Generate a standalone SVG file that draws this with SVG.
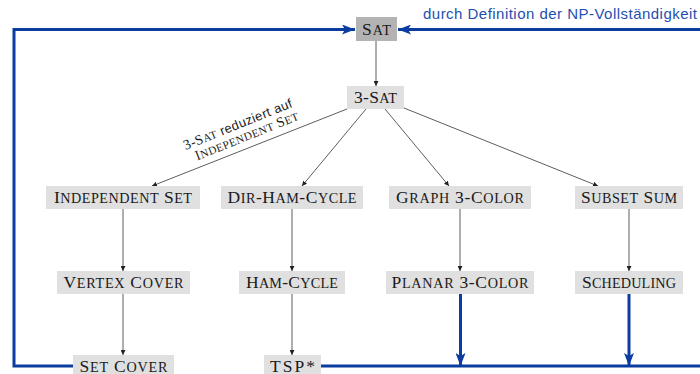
<svg xmlns="http://www.w3.org/2000/svg" width="700" height="374" viewBox="0 0 700 374">
<defs>
<style>
.box{fill:#e0e0e0}
.dark{fill:#b3b3b3}
.nt{font-family:"Liberation Serif","DejaVu Serif",serif;font-size:17.5px;fill:#1a1a1a;text-anchor:middle}
.s{font-size:14.2px}
.e{stroke:#333;stroke-width:0.8;fill:none;marker-end:url(#ah)}
.b{stroke:#0a3d9f;stroke-width:3;fill:none}
.ba{marker-end:url(#bh)}
.lbl{font-family:"Liberation Sans","DejaVu Sans",sans-serif;font-size:15px;fill:#1f4fb0}
.el{font-size:14px;fill:#1a1a1a;text-anchor:middle}
.es{font-size:11.3px}
.ser{font-family:"Liberation Serif","DejaVu Serif",serif}
.san{font-family:"Liberation Sans","DejaVu Sans",sans-serif;font-size:13px}
</style>
<marker id="ah" viewBox="0 0 10 10" refX="10" refY="5" markerWidth="5" markerHeight="5" markerUnits="userSpaceOnUse" orient="auto">
<path d="M0,0 L10,5 L0,10 z" fill="#222"/>
</marker>
<marker id="bh" viewBox="0 0 13 10" refX="13" refY="5" markerWidth="13" markerHeight="10" markerUnits="userSpaceOnUse" orient="auto">
<path d="M0,0 L13,5 L0,10 L3,5 z" fill="#0a3d9f"/>
</marker>
</defs>

<g id="connectors">
<path class="e" d="M376,41 V86"/>
<path class="e" d="M347,109 L152,186"/>
<path class="e" d="M366,109 L302,186"/>
<path class="e" d="M385,109 L449,186"/>
<path class="e" d="M404,108 L598,186"/>
<path class="e" d="M123,209 V271"/>
<path class="e" d="M123,294 V355"/>
<path class="e" d="M292,209 V271"/>
<path class="e" d="M292,294 V355"/>
<path class="e" d="M460,209 V271"/>
<path class="e" d="M629,209 V271"/>
<path class="b ba" d="M73,366 H14 V29.5 H355"/>
<path class="b ba" d="M704,29.5 H398"/>
<path class="b" d="M321,366 H704"/>
<path class="b ba" d="M460.5,294 V366"/>
<path class="b ba" d="M629,294 V366"/>
<text class="lbl" x="423" y="19" textLength="274">durch Definition der NP-Vollständigkeit</text>
<g transform="translate(248.5,148.5) rotate(-21.86)">
<text class="el" x="-1" y="-22" textLength="116"><tspan class="ser">3-S</tspan><tspan class="ser es">AT</tspan><tspan class="san"> reduziert auf</tspan></text>
<text class="el ser" x="3" y="-8" textLength="110">I<tspan class="es">NDEPENDENT</tspan> S<tspan class="es">ET</tspan></text>
</g>
</g>

<g id="sat"><rect class="dark" x="356" y="17" width="41" height="24"/><text class="nt" x="376.5" y="34.5" textLength="29">S<tspan class="s">AT</tspan></text></g>
<g id="3sat"><rect class="box" x="347" y="86" width="57" height="23"/><text class="nt" x="375.5" y="103" textLength="43">3-S<tspan class="s">AT</tspan></text></g>
<g id="indset"><rect class="box" x="46" y="186" width="154" height="23"/><text class="nt" x="123" y="203" textLength="138">I<tspan class="s">NDEPENDENT</tspan> S<tspan class="s">ET</tspan></text></g>
<g id="dirham"><rect class="box" x="221" y="186" width="142" height="23"/><text class="nt" x="292" y="203" textLength="129">D<tspan class="s">IR</tspan>-H<tspan class="s">AM</tspan>-C<tspan class="s">YCLE</tspan></text></g>
<g id="graph3"><rect class="box" x="389" y="186" width="142" height="23"/><text class="nt" x="460" y="203" textLength="128">G<tspan class="s">RAPH</tspan> 3-C<tspan class="s">OLOR</tspan></text></g>
<g id="subset"><rect class="box" x="575" y="186" width="108" height="23"/><text class="nt" x="629" y="203" textLength="96">S<tspan class="s">UBSET</tspan> S<tspan class="s">UM</tspan></text></g>
<g id="vertex"><rect class="box" x="57" y="271" width="133" height="23"/><text class="nt" x="123.5" y="288" textLength="120">V<tspan class="s">ERTEX</tspan> C<tspan class="s">OVER</tspan></text></g>
<g id="hamcycle"><rect class="box" x="239" y="271" width="106" height="23"/><text class="nt" x="292" y="288" textLength="92">H<tspan class="s">AM</tspan>-C<tspan class="s">YCLE</tspan></text></g>
<g id="planar"><rect class="box" x="386" y="271" width="148" height="23"/><text class="nt" x="460" y="288" textLength="137">P<tspan class="s">LANAR</tspan> 3-C<tspan class="s">OLOR</tspan></text></g>
<g id="sched"><rect class="box" x="575" y="271" width="108" height="23"/><text class="nt" x="629" y="288" textLength="94">S<tspan class="s">CHEDULING</tspan></text></g>
<g id="setcover"><rect class="box" x="73" y="355" width="101" height="23"/><text class="nt" x="123.5" y="371.5" textLength="88">S<tspan class="s">ET</tspan> C<tspan class="s">OVER</tspan></text></g>
<g id="tsp"><rect class="box" x="264" y="355" width="57" height="23"/><text class="nt" x="292.5" y="371.5" textLength="45">TSP*</text></g>
</svg>
